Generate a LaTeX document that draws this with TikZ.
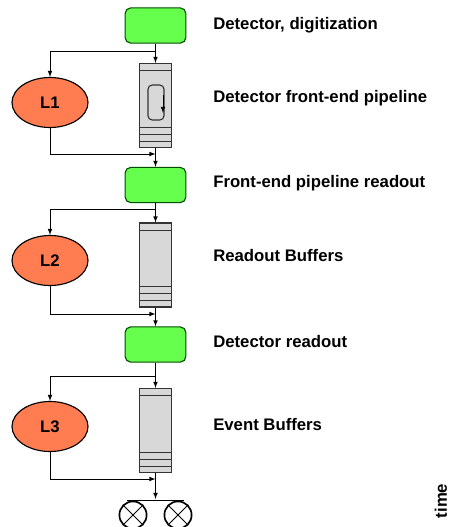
\documentclass[tikz,border=0pt]{standalone}
\usepackage{fontspec}
\setmainfont{Liberation Sans}
\usetikzlibrary{shapes, arrows}
\definecolor{trgreen}{RGB}{102,255,77}
\definecolor{trorange}{RGB}{255,125,80}
\definecolor{bufgray}{RGB}{216,216,216}
\newcommand{\labelfont}{\fontsize{11.9}{14}\selectfont\bfseries}
\tikzstyle{stage} = [rectangle, draw = black!70!green, fill = trgreen, line width = 0.8pt, minimum width = 1.52cm, minimum height = 0.88cm, rounded corners = 4pt]
\tikzstyle{level} = [ellipse, draw = black, fill = trorange, line width = 0.8pt, minimum width = 1.9cm, minimum height = 1.25cm, inner sep = 0pt, font = \labelfont]
\tikzstyle{buffer} = [rectangle, draw = black!80, fill = bufgray, line width = 0.8pt, minimum width = 0.8cm, minimum height = 2.1cm]
\tikzstyle{label} = [anchor = west, font = \labelfont, inner sep = 0pt]
\tikzstyle{arrow} = [draw, -latex, line width = 0.5pt]
\tikzstyle{tape} = [circle, draw = black, line width = 1.2pt, minimum size = 0.68cm, inner sep = 0pt]

\begin{document}
\begin{tikzpicture}[x = 0.025cm, y = -0.025cm]
            \useasboundingbox (0, 0) rectangle (458, 527);

            \node[stage] (g1) at (155.5, 25.5) {};
            \node[stage] (g2) at (155.5, 185) {};
            \node[stage] (g3) at (155.5, 344.5) {};
            \node[buffer] (b1) at (155.5, 105.5) {};
            \node[buffer] (b2) at (155.5, 265) {};
            \node[buffer] (b3) at (155.5, 430.5) {};
            \node[level] (l1) at (50, 102.5) {L1};
            \node[level] (l2) at (50, 260.5) {L2};
            \node[level] (l3) at (50, 426.5) {L3};
            \node[tape] (o1) at (133, 515) {};
            \node[tape] (o2) at (178, 515) {};

            % strips of the buffers
            \foreach \b in {b1, b2, b3} {
                \draw[line width = 0.8pt, black!80] ([yshift = -8*0.025cm]\b.north west) -- ([yshift = -8*0.025cm]\b.north east);
                \foreach \h in {7, 14, 21}
                    \draw[line width = 0.8pt, black!80] ([yshift = \h*0.025cm]\b.south west) -- ([yshift = \h*0.025cm]\b.south east);
            }
            \draw[rounded corners = 3pt, line width = 0.8pt, black!80] (148, 85) rectangle (164, 120);
            \draw[arrow] (163, 95) -- (163, 113);

            \node[label] (t1) at (213, 25) {Detector, digitization};
            \node[label] (t2) at (213, 98) {Detector front-end pipeline};
            \node[label] (t3) at (213, 183) {Front-end pipeline readout};
            \node[label] (t4) at (213, 256) {Readout Buffers};
            \node[label] (t5) at (213, 342) {Detector readout};
            \node[label] (t6) at (213, 425) {Event Buffers};
            \node[font = \labelfont, rotate = 90] (tm) at (441, 501) {time};

            \coordinate (s1) at (155.5, 51);
            \coordinate (s2) at (155.5, 209);
            \coordinate (s3) at (155.5, 376);
            \coordinate (m1) at (155.5, 154);
            \coordinate (m2) at (155.5, 314);
            \coordinate (m3) at (155.5, 479);
            \coordinate (e1) at (155.5, 499);

            \path[arrow] (g1) -- (b1);
            \path[arrow] (g2) -- (b2);
            \path[arrow] (g3) -- (b3);
            \path[arrow] (s1) -| (l1);
            \path[arrow] (s2) -| (l2);
            \path[arrow] (s3) -| (l3);
            \path[arrow] (l1) |- (m1);
            \path[arrow] (l2) |- (m2);
            \path[arrow] (l3) |- (m3);
            \path[arrow] (b1) -- (g2);
            \path[arrow] (b2) -- (g3);
            \path[arrow] (b3) -- (e1);

            \draw[line width = 1.2pt] ([xshift = -0.15cm]o1.north) -- ([xshift = 0.15cm]o2.north);
            \foreach \o in {o1, o2} {
                \draw[line width = 0.6pt] (\o.north west) -- (\o.south east);
                \draw[line width = 0.6pt] (\o.north east) -- (\o.south west);
            }
        \end{tikzpicture}
\end{document}
